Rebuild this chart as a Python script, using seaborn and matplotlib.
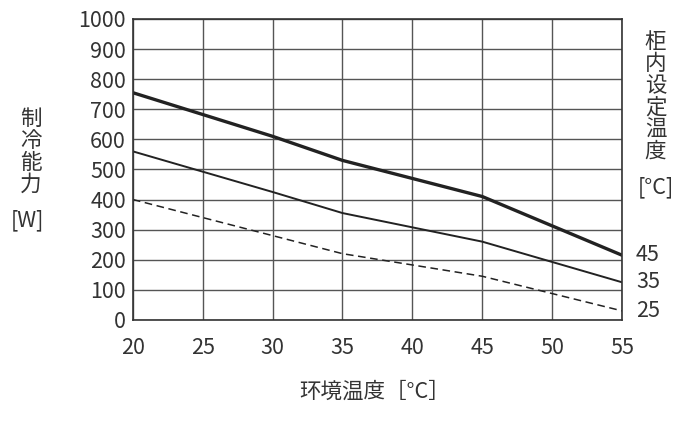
import matplotlib
matplotlib.use("Agg")
import matplotlib.pyplot as plt
import seaborn as sns
import pandas as pd

sns.set_style("white")
plt.rcParams['font.family'] = ['Noto Sans CJK JP', 'DejaVu Sans']

# data
x_45 = [20, 30, 35, 45, 55]
y_45 = [755, 610, 530, 410, 215]
x_35 = [20, 30, 35, 45, 55]
y_35 = [560, 425, 355, 260, 125]
x_25 = [20, 35, 45, 55]
y_25 = [400, 220, 145, 30]
set_labels = ['45', '35', '25']

fig = plt.figure(figsize=(6.85, 4.22), dpi=100)
ax = fig.add_axes([0.194, 0.242, 0.714, 0.713])

df45 = pd.DataFrame({'x': x_45, 'y': y_45})
df35 = pd.DataFrame({'x': x_35, 'y': y_35})
df25 = pd.DataFrame({'x': x_25, 'y': y_25})
sns.lineplot(data=df45, x='x', y='y', ax=ax, color='#222222', linewidth=2.4)
sns.lineplot(data=df35, x='x', y='y', ax=ax, color='#222222', linewidth=1.4)
sns.lineplot(data=df25, x='x', y='y', ax=ax, color='#222222', linewidth=1.1, linestyle=(0, (5, 3)))

ax.set_xlim(20, 55)
ax.set_ylim(0, 1000)
ax.set_xticks(range(20, 56, 5))
ax.set_yticks(range(0, 1001, 100))
ax.grid(True, color='#555555', linewidth=1)
for s in ax.spines.values():
    s.set_color('#333333')
    s.set_linewidth(1.2)
ax.tick_params(labelsize=15.5, colors='#333333', length=0)
ax.tick_params(axis='x', pad=12)
ax.tick_params(axis='y', pad=5)
ax.set_xlabel('')
ax.set_ylabel('')

tc = '#333333'
fs = 15.5
fig.text(0.547, 0.071, '环境温度［°C］', ha='center', va='center', fontsize=fs, color=tc)
fig.text(0.045, 0.64, '制\n冷\n能\n力', ha='center', va='center', fontsize=fs, color=tc, linespacing=1.0)
fig.text(0.04, 0.478, '[W]', ha='center', va='center', fontsize=fs, color=tc)
fig.text(0.957, 0.77, '柜\n内\n设\n定\n温\n度', ha='center', va='center', fontsize=fs, color=tc, linespacing=1.0)
fig.text(0.957, 0.557, '[°C]', ha='center', va='center', fontsize=fs, color=tc)

for lab, yv in zip(set_labels, [y_45[-1], y_35[-1], y_25[-1]]):
    ax.annotate(lab, (55, yv), xytext=(10, 0), textcoords='offset points',
                ha='left', va='center', fontsize=fs, color=tc, annotation_clip=False)

fig.savefig('out.png', dpi=100)
